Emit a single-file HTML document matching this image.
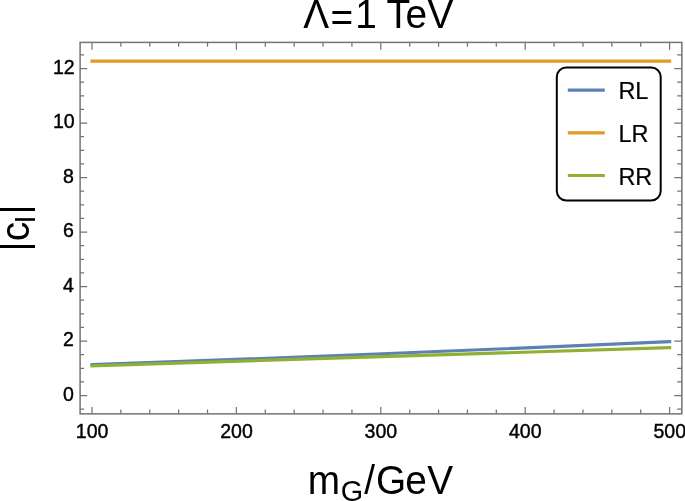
<!DOCTYPE html>
<html lang="en"><head><meta charset="utf-8"><title>Plot</title>
<style>html,body{margin:0;padding:0;background:#fff;}body{width:685px;height:501px;overflow:hidden;}svg{display:block;}text{font-family:"Liberation Sans",Arial,Helvetica,sans-serif;fill:#000;}</style></head><body>
<svg width="685" height="501" viewBox="0 0 685 501">
<rect width="685" height="501" fill="#fff"/>
<g fill="none" stroke-width="3.2" stroke-linecap="square">
<path d="M92.0 364.7 Q380.80 354.5 669.60 341.6" stroke="#5E81B5"/>
<path d="M92.0 61.2 L669.60 61.2" stroke="#E19C24"/>
<path d="M92.0 365.8 Q380.80 356.25 669.60 347.7" stroke="#8FB032"/>
</g>
<path d="M92.00 413.86 v-6.9 M92.00 42.4 v7.3 M120.88 413.86 v-4.3 M120.88 42.4 v4.4 M149.76 413.86 v-4.3 M149.76 42.4 v4.4 M178.64 413.86 v-4.3 M178.64 42.4 v4.4 M207.52 413.86 v-4.3 M207.52 42.4 v4.4 M236.40 413.86 v-6.9 M236.40 42.4 v7.3 M265.28 413.86 v-4.3 M265.28 42.4 v4.4 M294.16 413.86 v-4.3 M294.16 42.4 v4.4 M323.04 413.86 v-4.3 M323.04 42.4 v4.4 M351.92 413.86 v-4.3 M351.92 42.4 v4.4 M380.80 413.86 v-6.9 M380.80 42.4 v7.3 M409.68 413.86 v-4.3 M409.68 42.4 v4.4 M438.56 413.86 v-4.3 M438.56 42.4 v4.4 M467.44 413.86 v-4.3 M467.44 42.4 v4.4 M496.32 413.86 v-4.3 M496.32 42.4 v4.4 M525.20 413.86 v-6.9 M525.20 42.4 v7.3 M554.08 413.86 v-4.3 M554.08 42.4 v4.4 M582.96 413.86 v-4.3 M582.96 42.4 v4.4 M611.84 413.86 v-4.3 M611.84 42.4 v4.4 M640.72 413.86 v-4.3 M640.72 42.4 v4.4 M669.60 413.86 v-6.9 M669.60 42.4 v7.3 M80.1 409.18 H84.1 M681.85 409.18 H677.2 M80.1 395.55 H87.25 M681.85 395.55 H674.3 M80.1 381.93 H84.1 M681.85 381.93 H677.2 M80.1 368.30 H84.1 M681.85 368.30 H677.2 M80.1 354.68 H84.1 M681.85 354.68 H677.2 M80.1 341.05 H87.25 M681.85 341.05 H674.3 M80.1 327.43 H84.1 M681.85 327.43 H677.2 M80.1 313.80 H84.1 M681.85 313.80 H677.2 M80.1 300.18 H84.1 M681.85 300.18 H677.2 M80.1 286.55 H87.25 M681.85 286.55 H674.3 M80.1 272.93 H84.1 M681.85 272.93 H677.2 M80.1 259.30 H84.1 M681.85 259.30 H677.2 M80.1 245.68 H84.1 M681.85 245.68 H677.2 M80.1 232.05 H87.25 M681.85 232.05 H674.3 M80.1 218.43 H84.1 M681.85 218.43 H677.2 M80.1 204.80 H84.1 M681.85 204.80 H677.2 M80.1 191.18 H84.1 M681.85 191.18 H677.2 M80.1 177.55 H87.25 M681.85 177.55 H674.3 M80.1 163.93 H84.1 M681.85 163.93 H677.2 M80.1 150.30 H84.1 M681.85 150.30 H677.2 M80.1 136.68 H84.1 M681.85 136.68 H677.2 M80.1 123.05 H87.25 M681.85 123.05 H674.3 M80.1 109.43 H84.1 M681.85 109.43 H677.2 M80.1 95.80 H84.1 M681.85 95.80 H677.2 M80.1 82.18 H84.1 M681.85 82.18 H677.2 M80.1 68.55 H87.25 M681.85 68.55 H674.3 M80.1 54.93 H84.1 M681.85 54.93 H677.2" stroke="#747474" stroke-width="1.25" fill="none"/>
<rect x="80.1" y="42.4" width="601.75" height="371.46" fill="none" stroke="#747474" stroke-width="1.5"/>
<g font-size="19.55" stroke="#000" stroke-width="0.4">
<text transform="translate(92.10,437.9) scale(1,1.044)" text-anchor="middle">100</text>
<text transform="translate(236.50,437.9) scale(1,1.044)" text-anchor="middle">200</text>
<text transform="translate(380.90,437.9) scale(1,1.044)" text-anchor="middle">300</text>
<text transform="translate(525.30,437.9) scale(1,1.044)" text-anchor="middle">400</text>
<text transform="translate(669.70,437.9) scale(1,1.044)" text-anchor="middle">500</text>
<text transform="translate(73.9,400.50) scale(1,1.044)" text-anchor="end">0</text>
<text transform="translate(73.9,346.00) scale(1,1.044)" text-anchor="end">2</text>
<text transform="translate(73.9,291.50) scale(1,1.044)" text-anchor="end">4</text>
<text transform="translate(73.9,237.00) scale(1,1.044)" text-anchor="end">6</text>
<text transform="translate(73.9,182.50) scale(1,1.044)" text-anchor="end">8</text>
<text transform="translate(74.7,128.00) scale(1,1.044)" text-anchor="end">10</text>
<text transform="translate(74.7,73.50) scale(1,1.044)" text-anchor="end">12</text>
</g>
<text transform="translate(0,27.8) scale(1,1.044)" font-size="38.8" x="303.3 330.55 355.2 376.8 386.6 405.55 427.4" y="0 3.1 0 0 0 0 0">Λ=1 TeV</text>
<text transform="translate(0,493.5) scale(1,1.044)" font-size="38.8"><tspan x="307.65" y="0">m</tspan><tspan font-size="28.8" x="340.85" y="7.2">G</tspan><tspan x="364.3 375.9 405.2 427.2" y="0 0 0 0">/GeV</tspan></text>
<text transform="rotate(-90) translate(0,28.1) scale(1,1.044)" font-size="38.8"><tspan x="-251.44 -241.35" y="-1 0.5">|c</tspan><tspan font-size="28.8" x="-223.4" y="6.8">I</tspan><tspan x="-214.44" y="-1">|</tspan></text>
<rect x="556.8" y="67.5" width="103.9" height="133.1" rx="9.5" ry="9.5" fill="#fff" stroke="#000" stroke-width="2"/>
<path d="M567.8 90.10 H604.8" stroke="#5E81B5" stroke-width="3.2" fill="none"/>
<text transform="translate(618.4,99.40) scale(1,1.044)" font-size="23.5" stroke="#000" stroke-width="0.2">RL</text>
<path d="M567.8 132.80 H604.8" stroke="#E19C24" stroke-width="3.2" fill="none"/>
<text transform="translate(618.4,142.10) scale(1,1.044)" font-size="23.5" stroke="#000" stroke-width="0.2">LR</text>
<path d="M567.8 175.50 H604.8" stroke="#8FB032" stroke-width="3.2" fill="none"/>
<text transform="translate(618.4,184.80) scale(1,1.044)" font-size="23.5" stroke="#000" stroke-width="0.2">RR</text>
</svg></body></html>
